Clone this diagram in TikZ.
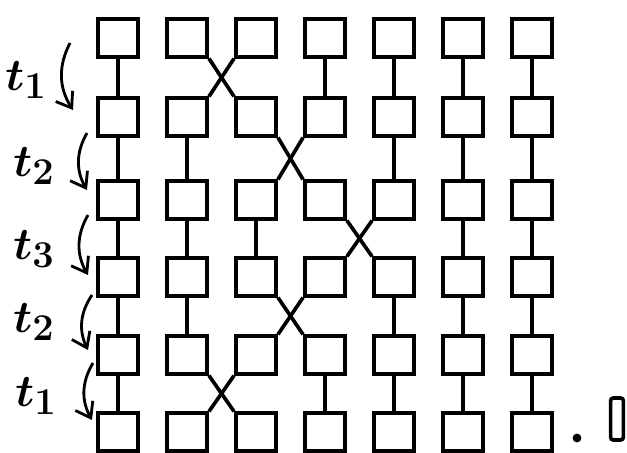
\documentclass[tikz,border=0pt]{standalone}
\usetikzlibrary{arrows.meta}
\newcommand\tlab[1]{\scalebox{1.3}{$t_{#1}$}}
\begin{document}
\begin{tikzpicture}[x=0.025cm,y=-0.025cm,
  cell/.style={draw,line width=2.8pt,minimum width=1cm,minimum height=0.93cm,inner sep=0pt},
  link/.style={line width=2.6pt},
  tlabel/.style={font=\fontsize{24.88}{30}\selectfont\boldmath},
  turn/.style={line width=2pt,-{Straight Barb[length=3.5mm,width=5mm]},bend right=30}]
\useasboundingbox (0,0) rectangle (627,453);

\foreach \y [count=\r from 0] in {38,117,200,277,355,432}
  \foreach \c in {0,...,6}
    \node[cell] (n\r\c) at (118+69*\c,\y) {};

\foreach \g/\s in {0/1,1/2,2/3,3/2,4/1} {
  \pgfmathtruncatemacro\nr{\g+1}
  \pgfmathtruncatemacro\sr{\s+1}
  \foreach \c in {0,...,6} {
    \ifnum\c=\s \else \ifnum\c=\sr \else
      \draw[link] (n\g\c.south) -- (n\nr\c.north);
    \fi\fi
  }
  \draw[link] (n\g\s.south east) -- (n\nr\sr.north west);
  \draw[link] (n\g\sr.south west) -- (n\nr\s.north east);
}

\node[tlabel] (ta) at (26,80) {\tlab1};
\node[tlabel] (tb) at (34,166) {\tlab2};
\node[tlabel] (tc) at (34,249) {\tlab3};
\node[tlabel] (td) at (34,322) {\tlab2};
\node[tlabel] (te) at (36,396) {\tlab1};

\coordinate (a1s) at (70,43);  \coordinate (a1e) at (73,110);
\coordinate (a2s) at (87,133); \coordinate (a2e) at (87,190);
\coordinate (a3s) at (88,215); \coordinate (a3e) at (88,275);
\coordinate (a4s) at (92,295); \coordinate (a4e) at (88,350);
\coordinate (a5s) at (93,363); \coordinate (a5e) at (92,420);
\foreach \i in {1,...,5}
  \draw[turn] (a\i s) to (a\i e);

\node[circle,fill,inner sep=0pt,minimum size=0.22cm] (dot) at (577,438) {};
\node[draw,line width=2.6pt,rounded corners=2pt,minimum width=0.32cm,minimum height=1.05cm,inner sep=0pt] (tail) at (617,419) {};
\end{tikzpicture}
\end{document}
